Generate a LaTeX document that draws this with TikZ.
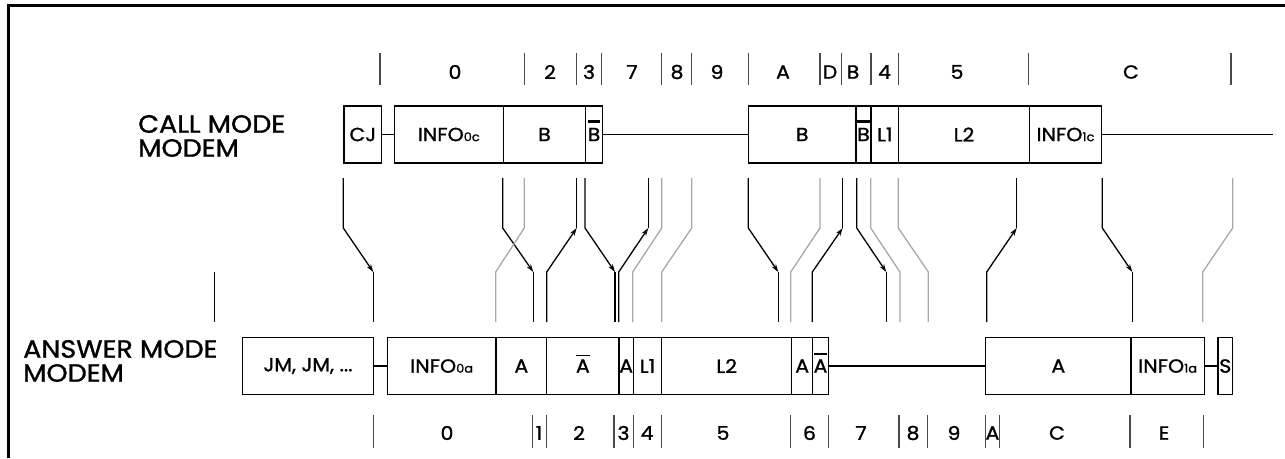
\documentclass[tikz,border=0pt]{standalone}
\usepackage{fontspec}
\setmainfont{Poppins}[UprightFeatures={FakeBold=1.2,FakeStretch=1.08}]
\usepackage{tikz}
\usetikzlibrary{positioning,arrows.meta}
\definecolor{linkgrey}{HTML}{A8A8A8}
\definecolor{tickgrey}{HTML}{4A4A4A}
% letter with a bar over it: thickness, gap, letter
\newcommand{\ovl}[3]{\setbox0\hbox{#3}\rlap{\raisebox{\dimexpr\ht0+#2\relax}[0pt][0pt]{\rule{\wd0}{#1}}}\box0}
\newcommand{\idx}[1]{{\fontsize{12}{12}\selectfont #1}}

\begin{document}
\begin{tikzpicture}[x=1pt,y=-1pt,
  cbox/.style={draw,line width=1.2pt,minimum width=#1,minimum height=57pt,inner sep=0pt,outer sep=0pt,font=\fontsize{19}{19}\selectfont},
  tick/.style={tickgrey,line width=1.5pt},
  tlab/.style={font=\fontsize{19}{19}\selectfont,inner sep=0pt},
  mode/.style={font=\fontsize{25}{24}\selectfont,align=left,anchor=west,inner sep=0pt},
  link/.style={line width=1.3pt},
  glink/.style={linkgrey,line width=1.3pt},
  tip/.style={-{Stealth[length=8pt,width=5pt]}}
]
\useasboundingbox (0,0) rectangle (1285,458);
\draw[line width=3pt] (8,458) -- (8,5) -- (1285,5);

% modem names
\node[mode] (callmode) at (138,136) {CALL MODE\\MODEM};
\node[mode] (answermode) at (23,361) {ANSWER MODE\\MODEM};
\draw[link] (214.5,272) -- (214.5,322);

% call mode sequence
\node[cbox=37.7pt,anchor=west] (cj) at (344,134.5) {CJ};
\node[cbox=109pt,right=12.6pt of cj] (info0c) {INFO\idx{0c}};
\node[cbox=82.4pt,right=0pt of info0c] (bc1) {B};
\node[cbox=16.6pt,right=0pt of bc1] (nbc1) {\makebox[0pt]{\ovl{2.5pt}{5pt}{B}}};
\node[cbox=107.7pt,right=146pt of nbc1] (bc2) {B};
\node[cbox=15pt,right=0pt of bc2] (nbc2) {\makebox[0pt]{\ovl{2.5pt}{5pt}{B}}};
\node[cbox=27.7pt,right=0pt of nbc2] (l1c) {L1};
\node[cbox=130.6pt,right=0pt of l1c] (l2c) {L2};
\node[cbox=72.4pt,right=0pt of l2c] (info1c) {INFO\idx{1c}};
\coordinate (cend) at (1273,134.5);
\draw[link] (cj) -- (info0c);
\draw[link] (nbc1) -- (bc2);
\draw[link] (info1c) -- (cend);

% answer mode sequence
\node[cbox=130.6pt,anchor=west] (jm) at (242.7,366) {JM, JM, ...};
\node[cbox=108.7pt,right=14pt of jm] (info0a) {INFO\idx{0a}};
\node[cbox=50.7pt,right=0pt of info0a] (aa1) {A};
\node[cbox=72.3pt,right=0pt of aa1] (naa1) {\ovl{1.3pt}{3.5pt}{A}};
\node[cbox=14.3pt,right=0pt of naa1] (aa2) {\makebox[0pt]{A}};
\node[cbox=28.4pt,right=0pt of aa2] (l1a) {L1};
\node[cbox=130pt,right=0pt of l1a] (l2a) {L2};
\node[cbox=21pt,right=0pt of l2a] (aa3) {\makebox[0pt]{A}};
\node[cbox=15.6pt,right=0pt of aa3] (naa2) {\makebox[0pt]{\ovl{2.5pt}{4pt}{A}}};
\node[cbox=145.3pt,right=157.4pt of naa2] (aa4) {A};
\node[cbox=73.3pt,right=0pt of aa4] (info1a) {INFO\idx{1a}};
\node[cbox=14.6pt,right=13.7pt of info1a] (sa) {\makebox[0pt]{S}};
\draw[link] (jm) -- (info0a);
\draw[link] (naa2) -- (aa4);
\draw[link] (info1a) -- (sa);

% time slots of the call modem
\foreach \x in {380,524.3,576.7,601.7,661.7,691.7,748.3,820,841.7,871,898.3,1028.3,1231}
  \draw[tick] (\x,52.7) -- (\x,85);
\foreach \x/\t [count=\i] in {455/0,550/2,589/3,632/7,677/8,717/9,783/A,830/D,853/B,884.5/4,957/5,1131/C}
  \node[tlab] (ctop\i) at (\x,72) {\t};

% time slots of the answer modem
\foreach \x in {373.3,532.3,546.7,614,633.3,661.7,790.7,828.3,899,927.3,985.7,999.3,1130,1203.3}
  \draw[tick] (\x,415) -- (\x,448.3);
\foreach \x/\t [count=\i] in {447/0,539/1,579/2,623.5/3,647/4,723/5,809.5/6,861/7,913/8,954/9,992.5/A,1057/C,1164/E}
  \node[tlab] (abot\i) at (\x,433) {\t};

% call to answer
\foreach \a/\b [count=\i] in {343.3/373.3,502.7/533.3,585/615,748.3/778.3,856.7/886.3,1102.3/1132.3} {
  \coordinate (dtop\i) at (\a,178);
  \coordinate (dbot\i) at (\b,322);
  \draw[link,tip] (dtop\i) -- (\a,228) -- (\b,272);
  \draw[link] (\b,272) -- (dbot\i);
}
% answer to call
\foreach \a/\b [count=\i] in {546.7/576.7,618.7/648.3,812.3/842.7,986.7/1016.7} {
  \coordinate (ubot\i) at (\a,322);
  \coordinate (utop\i) at (\b,178);
  \draw[link,tip] (ubot\i) -- (\a,272) -- (\b,228);
  \draw[link] (\b,228) -- (utop\i);
}
% slot boundaries
\foreach \a/\b [count=\i] in {524.3/495.7,661.7/632.7,691.7/661.7,820/790.7,870.7/900,898.3/928.3,1232.7/1202.7} {
  \coordinate (gtop\i) at (\a,178);
  \coordinate (gbot\i) at (\b,322);
  \draw[glink] (gtop\i) -- (\a,228) -- (\b,272) -- (gbot\i);
}
\end{tikzpicture}
\end{document}
